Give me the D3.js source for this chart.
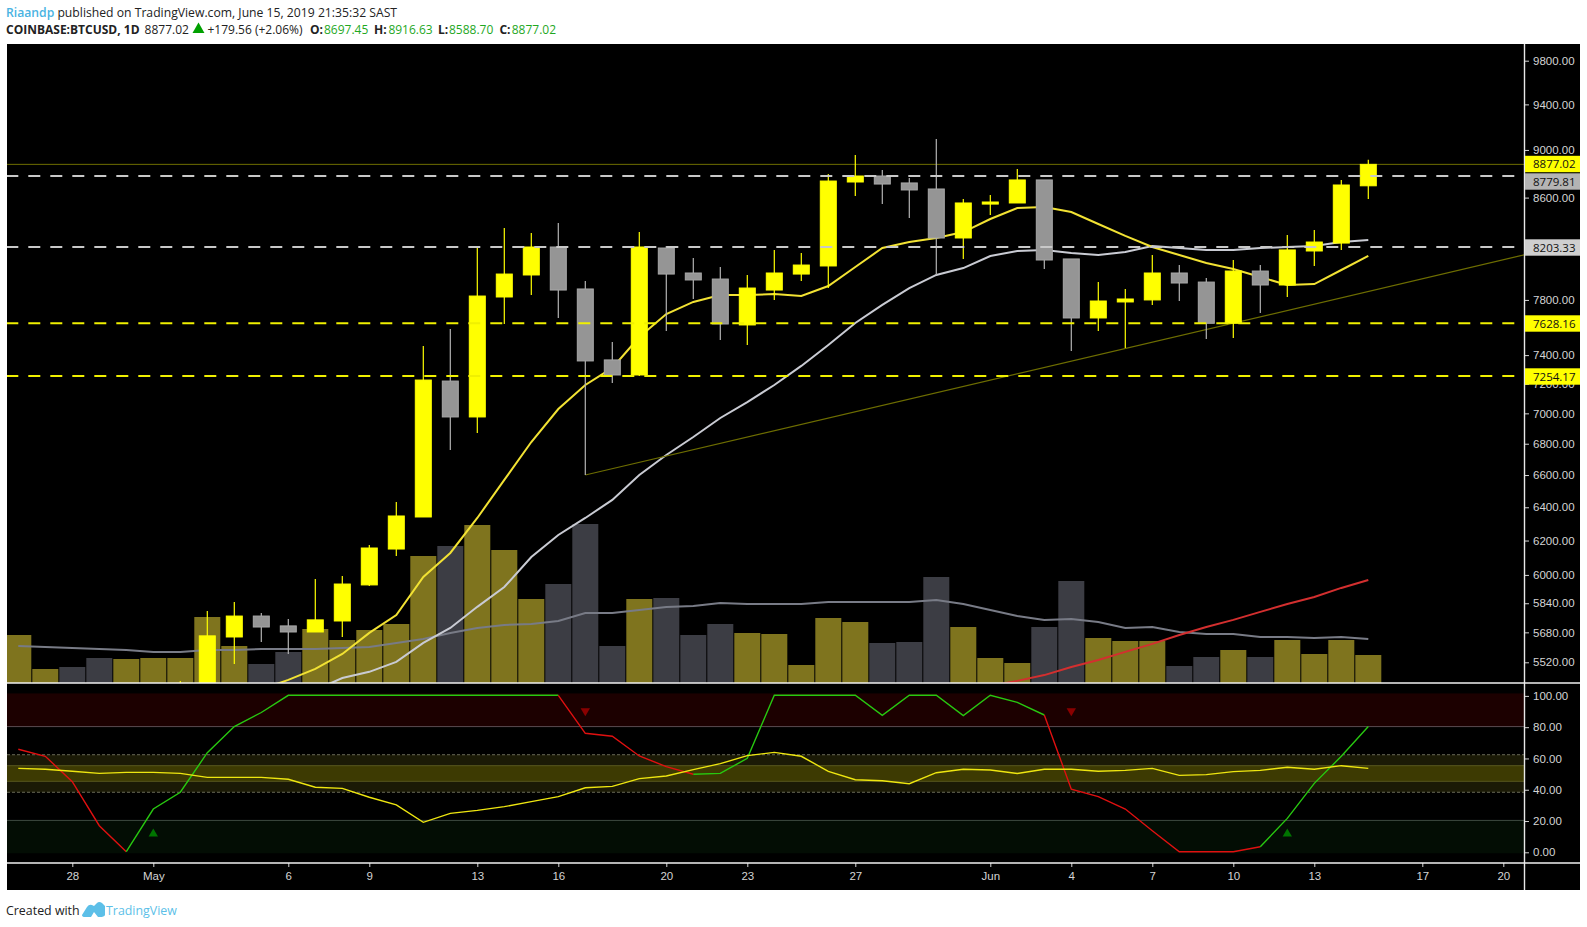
<!DOCTYPE html>
<html>
<head>
<meta charset="utf-8">
<script src="https://cdn.jsdelivr.net/npm/d3@7.9.0/dist/d3.min.js"></script>
<style>
  html, body { margin: 0; padding: 0; background: #fff; }
  svg { display: block; font-family: "Open Sans", sans-serif; }
  .axis text { fill: #d4d4d4; font-size: 11.5px; }
  .axis line { stroke: #d4d4d4; }
  .axis .domain { display: none; }
</style>
</head>
<body>
<svg id="chart" width="1587" height="927"></svg>
<script>
// daily bars, first one is 26 Apr 2019
const startDay = Date.UTC(2019, 3, 26);
const DAY = 864e5;

const opens = [5250,5270,5290,5270,5230,5300,5340,5400,5655,5769,5715,5682,5742,5943,6150,6341,7219,6976,7822,7988,8204,7882,7366,7261,8196,8003,7957,7616,7874,7995,8057,8729,8779,8721,8671,8275,8547,8556,8746,8111,7667,7785,7800,8003,7934,7628,8018,7912,8173,8235,8697.45];
const highs = [5330,5300,5310,5290,5310,5360,5423,5797,5847,5786,5753,5977,5994,6174,6432,7465,7587,8196,8354,8314,8394,7942,7493,8322,8212,8118,8049,7988,8181,8157,8796,8957,8829,8762,9095,8589,8621,8838,8746,8111,7934,7882,8142,8064,7965,8103,8064,8298,8338,8746,8916.63];
const lows = [5200,5220,5240,5190,5210,5280,5320,5380,5511,5628,5564,5682,5655,5937,6109,6341,6760,6870,7623,7837,7667,6600,7206,7254,7572,7807,7508,7472,7800,7942,7889,8613,8547,8434,7988,8111,8458,8556,8034,7429,7572,7450,7763,7792,7515,7522,7703,7822,8057,8181,8588.70];
const closes = [5270,5290,5270,5230,5300,5340,5400,5661,5769,5709,5682,5748,5948,6156,6347,7226,6976,7829,7995,8204,7874,7359,7261,8204,7995,7950,7623,7889,8003,8064,8737,8779,8712,8663,8275,8556,8564,8746,8103,7667,7792,7807,8003,7927,7628,8018,7912,8181,8243,8704,8877.02];
const volumes = [4800,1400,1600,2500,2400,2500,2500,6600,3700,1900,3100,5400,4300,5300,5900,12700,13700,15800,13300,8400,9900,15900,3700,8400,8500,4800,5900,5000,4900,1800,6500,6100,4000,4100,10600,5600,2500,2000,5600,10200,4500,4200,4200,1700,2600,3300,2600,4300,2900,4300,2800];

const yellowMa = [5260,5265,5270,5265,5260,5265,5285,5310,5340,5380,5428,5485,5564,5677,5775,5988,6127,6335,6569,6811,7029,7192,7310,7529,7696,7785,7837,7837,7844,7829,7904,8049,8196,8243,8275,8322,8426,8515,8523,8482,8386,8291,8204,8142,8080,8034,7973,7912,7919,8026,8134];
const whiteMa = [5200,5210,5220,5225,5230,5240,5250,5265,5285,5310,5340,5376,5438,5470,5522,5623,5704,5820,5931,6103,6233,6335,6445,6600,6727,6844,6969,7076,7192,7324,7472,7630,7763,7889,7988,8041,8134,8173,8181,8157,8142,8165,8212,8196,8181,8181,8196,8204,8212,8243,8259];
// red average only comes into view on the last days
const redMaStart = 36;
const redMa = [5397,5423,5453,5495,5532,5575,5618,5666,5709,5748,5792,5836,5875,5926,5971];
const volumeMa = [3700,3600,3500,3400,3300,3100,3100,3300,3300,3400,3400,3400,3500,3600,4000,4400,5000,5500,5800,5900,6200,7000,7000,7300,7600,7700,8000,7900,7900,7900,8100,8100,8100,8100,8300,7900,7300,6700,6300,6400,6100,5500,5600,5100,4900,4900,4600,4600,4500,4600,4400];

const stochK = [65.5,61,44.8,16.6,0,27.3,38,63.3,80,89,100,100,100,100,100,100,100,100,100,100,100,75.7,73.8,61.2,54.4,49.5,50.1,59.7,100,100,100,100,87.2,100,100,87,100,95.5,87.4,40,35.2,27.3,13.4,0,0,0,3.2,21.3,43.7,61,80];
const stochD = [53.3,52.7,51.4,50.1,50.7,50.7,50.1,47.5,47.5,47.5,46.3,41.2,40.5,34.8,29.9,18.8,24.5,26.4,28.8,32,35.2,40.9,41.8,46.7,48.4,52.5,56.3,61.4,63.5,61,51.4,46,45.4,43.5,50.5,52.7,52.2,50,52.7,52.7,51.4,52,53.3,48.8,49.3,51.2,52,54,52.7,55,53.3];
// from bar, to bar, direction of the %K colouring
const stochSegments = [[0,4,'down'],[4,20,'up'],[20,25,'down'],[25,38,'up'],[38,46,'down'],[46,50,'up']];
// bar, value, direction
const stochMarkers = [[5,11.4,'up'],[21,90,'down'],[39,90,'down'],[47,11.4,'up']];

const priceTicks = [9800,9400,9000,8600,7800,7400,7200,7000,6800,6600,6400,6200,6000,5840,5680,5520];
const stochTicks = [100,80,60,40,20,0];
const dateTicks = [[2,'28'],[5,'May'],[10,'6'],[13,'9'],[17,'13'],[20,'16'],[24,'20'],[27,'23'],[31,'27'],[36,'Jun'],[39,'4'],[42,'7'],[45,'10'],[48,'13'],[52,'17'],[55,'20']];

const levelValues = [8877.02,8779.81,8203.33,7628.16,7254.17];
const levelFills = ['#ffff00','#b4b4b4','#cfcfcf','#ffff00','#ffff00'];
const levelLabelY = [164,181.5,247.5,323.5,376.5];
const dashedLevels = [8779.81,8203.33,7628.16,7254.17];
const dashedColors = ['#c8c8c8','#c8c8c8','#f0f000','#f0f000'];

// trend line: bar index and price at both ends
const trendBars = [21,55.77];
const trendPrices = [6600,8142];

const plotL = 7, axisX = 1524, plotR = 1580, plotT = 44, priceB = 683, stochB = 863, plotB = 890;

const dateOf = i => new Date(startDay + i * DAY);
const x = d3.scaleUtc()
  .domain([dateOf(5), dateOf(55)])
  .range([153.3, 153.3 + 27 * 50]);
const xi = i => x(dateOf(i));

// log price scale
const y = d3.scaleLog().domain([9800, 5520]).range([60.7, 662.3]);
const yVol = d3.scaleLinear().domain([0, 16000]).range([priceB, priceB - 160]);
const yStoch = d3.scaleLinear().domain([0, 100]).range([851.7, 695.3]);

const svg = d3.select('#chart');

svg.append('rect').attr('x', plotL).attr('y', plotT)
  .attr('width', plotR - plotL).attr('height', plotB - plotT).attr('fill', '#000');

const defs = svg.append('defs');
defs.append('clipPath').attr('id', 'clipPrice').append('rect')
  .attr('x', plotL).attr('y', plotT).attr('width', axisX - plotL).attr('height', priceB - plotT);
defs.append('clipPath').attr('id', 'clipStoch').append('rect')
  .attr('x', plotL).attr('y', priceB).attr('width', axisX - plotL).attr('height', stochB - priceB);

const price = svg.append('g').attr('clip-path', 'url(#clipPrice)');
const bars = d3.range(opens.length);

// volume
price.selectAll('rect.vol').data(bars).join('rect')
  .attr('class', 'vol')
  .attr('x', i => xi(i) - 13)
  .attr('width', 26)
  .attr('y', i => yVol(volumes[i]))
  .attr('height', i => priceB - yVol(volumes[i]))
  .attr('fill', i => closes[i] >= opens[i] ? '#7f741e' : '#3c3d44');

const lineOf = (arr, scale, offset = 0) => d3.line()
  .x((d, i) => xi(i + offset))
  .y(d => scale(d))(arr);

price.append('path').attr('d', lineOf(volumeMa, yVol))
  .attr('fill', 'none').attr('stroke', '#787b86').attr('stroke-width', 2);
price.append('path').attr('d', lineOf(redMa, y, redMaStart))
  .attr('fill', 'none').attr('stroke', '#d32f2f').attr('stroke-width', 2);
price.append('path').attr('d', lineOf(whiteMa, y))
  .attr('fill', 'none').attr('stroke', '#c9cbd3').attr('stroke-width', 2);
price.append('path').attr('d', lineOf(yellowMa, y))
  .attr('fill', 'none').attr('stroke', '#f2e233').attr('stroke-width', 2);

// thin olive lines
price.append('line')
  .attr('x1', plotL).attr('x2', axisX)
  .attr('y1', y(levelValues[0])).attr('y2', y(levelValues[0]))
  .attr('stroke', '#6d6d00');
price.append('line')
  .attr('x1', xi(trendBars[0])).attr('x2', xi(trendBars[1]))
  .attr('y1', y(trendPrices[0])).attr('y2', y(trendPrices[1]))
  .attr('stroke', '#6d6d00').attr('stroke-width', 1.2);

// candles
const isUp = i => closes[i] >= opens[i];
price.selectAll('line.wick').data(bars).join('line')
  .attr('class', 'wick')
  .attr('x1', i => xi(i)).attr('x2', i => xi(i))
  .attr('y1', i => y(highs[i])).attr('y2', i => y(lows[i]))
  .attr('stroke', i => isUp(i) ? '#ffff00' : '#b4b4b4')
  .attr('stroke-width', 1.2);
price.selectAll('rect.body').data(bars).join('rect')
  .attr('class', 'body')
  .attr('x', i => xi(i) - 8)
  .attr('width', 16)
  .attr('y', i => y(Math.max(opens[i], closes[i])))
  .attr('height', i => Math.max(1, Math.abs(y(opens[i]) - y(closes[i]))))
  .attr('fill', i => isUp(i) ? '#ffff00' : '#959595')
  .attr('stroke', i => isUp(i) ? '#ffff00' : '#a8a8a8');

// dashed levels on top of the candles
price.selectAll('line.level').data(dashedLevels).join('line')
  .attr('class', 'level')
  .attr('x1', 6.3).attr('x2', axisX)
  .attr('y1', d => y(d)).attr('y2', d => y(d))
  .attr('stroke', (d, i) => dashedColors[i])
  .attr('stroke-width', 2)
  .attr('stroke-dasharray', '12 10');

// stochastic pane
const stoch = svg.append('g').attr('clip-path', 'url(#clipStoch)');
const band = (from, to, fill) => stoch.append('rect')
  .attr('x', plotL).attr('width', axisX - plotL)
  .attr('y', yStoch(to)).attr('height', yStoch(from) - yStoch(to))
  .attr('fill', fill);
const rule = (v, color, dash) => stoch.append('line')
  .attr('x1', plotL).attr('x2', axisX)
  .attr('y1', yStoch(v)).attr('y2', yStoch(v))
  .attr('stroke', color)
  .attr('stroke-dasharray', dash || null);

band(80, 101.2, '#1c0000');
band(-1, 20, '#030d04');
band(38, 62, '#1b1a06');
band(45, 55, '#3d3a02');
rule(80, '#5a4a50');
rule(20, '#3d4a40');
rule(62, '#6a6a58', '3 2');
rule(38, '#6a6a58', '3 2');
rule(55, '#58561f');
rule(45, '#58561f');

stochSegments.forEach(([a, b, dir]) => {
  stoch.append('path')
    .attr('d', lineOf(stochK.slice(a, b + 1), yStoch, a))
    .attr('fill', 'none')
    .attr('stroke', dir === 'up' ? '#28c810' : '#e01010')
    .attr('stroke-width', 1.4);
});
stoch.append('path').attr('d', lineOf(stochD, yStoch))
  .attr('fill', 'none').attr('stroke', '#eee610').attr('stroke-width', 1.4);

stoch.selectAll('path.marker').data(stochMarkers).join('path')
  .attr('class', 'marker')
  .attr('d', d3.symbol(d3.symbolTriangle, 38))
  .attr('transform', d => `translate(${xi(d[0])},${yStoch(d[1])})${d[2] === 'down' ? ' rotate(180)' : ''}`)
  .attr('fill', d => d[2] === 'down' ? '#8a0000' : '#007400');

// axes
svg.append('g').attr('class', 'axis')
  .attr('transform', `translate(${axisX},0)`)
  .call(d3.axisRight(y).tickValues(priceTicks).tickFormat(d3.format('.2f')).tickSize(5).tickPadding(4));

svg.append('g').attr('class', 'axis')
  .attr('transform', `translate(${axisX},0.6)`)
  .call(d3.axisRight(yStoch).tickValues(stochTicks).tickFormat(d3.format('.2f')).tickSize(5).tickPadding(4));

const dateLabels = new Map(dateTicks.map(d => [+dateOf(d[0]), d[1]]));
svg.append('g').attr('class', 'axis')
  .attr('transform', `translate(0,${stochB})`)
  .call(d3.axisBottom(x)
    .tickValues(dateTicks.map(d => dateOf(d[0])))
    .tickFormat(d => dateLabels.get(+d))
    .tickSize(4).tickPadding(5));

// frame lines
svg.append('line').attr('x1', axisX + 0.5).attr('x2', axisX + 0.5).attr('y1', plotT).attr('y2', plotB)
  .attr('stroke', '#e8e8e8').attr('stroke-width', 1.4);
svg.append('line').attr('x1', plotL).attr('x2', plotR).attr('y1', priceB).attr('y2', priceB)
  .attr('stroke', '#f0f0f0').attr('stroke-width', 1.4);
svg.append('line').attr('x1', plotL).attr('x2', plotR).attr('y1', stochB).attr('y2', stochB)
  .attr('stroke', '#f0f0f0').attr('stroke-width', 1.4);

// level labels on the price axis
const labels = svg.append('g');
levelValues.forEach((v, i) => {
  labels.append('rect')
    .attr('x', axisX + 1).attr('width', plotR - axisX - 1)
    .attr('y', levelLabelY[i] - 8.2).attr('height', 16.4)
    .attr('fill', levelFills[i]);
  labels.append('text')
    .attr('x', axisX + 9).attr('y', levelLabelY[i])
    .attr('dy', '0.35em')
    .attr('font-size', 11.5)
    .attr('fill', '#111')
    .text(d3.format('.2f')(v));
});

// header and footer
const line1 = svg.append('text').attr('x', 6).attr('y', 17).attr('font-size', 12.2).attr('fill', '#222');
line1.append('tspan').attr('fill', '#4ab3e2').attr('font-weight', 600).text('Riaandp');
line1.append('tspan').text(' published on TradingView.com, June 15, 2019 21:35:32 SAST');

const line2 = svg.append('text').attr('y', 34).attr('font-size', 12).attr('fill', '#222');
const green = '#1fa81f';
line2.append('tspan').attr('x', 6).attr('font-weight', 700).text('COINBASE:BTCUSD, 1D');
line2.append('tspan').attr('x', 144.6).text('8877.02');
line2.append('tspan').attr('x', 207.5).text('+179.56 (+2.06%)');
[['O:', '8697.45', 310, 324], ['H:', '8916.63', 374, 388.4], ['L:', '8588.70', 438, 449], ['C:', '8877.02', 499.4, 511.7]].forEach(([k, v, xk, xv]) => {
  line2.append('tspan').attr('x', xk).attr('font-weight', 700).text(k);
  line2.append('tspan').attr('x', xv).attr('fill', green).text(v);
});

// up arrow next to the last price
svg.append('path')
  .attr('d', d3.symbol(d3.symbolTriangle, 62))
  .attr('transform', 'translate(198.5,29.5)')
  .attr('fill', '#00a000');

const foot = svg.append('text').attr('x', 6).attr('y', 915).attr('font-size', 12.4).attr('fill', '#222');
foot.append('tspan').text('Created with');
foot.append('tspan').attr('x', 106).attr('fill', '#5cbfe8').text('TradingView');

// logo
svg.append('path')
  .attr('d', 'M82 915 L87 907 Q89 904 92 905 L94 906 L97 903 Q99 901 102 903 L105 906 L105 915 Q104 917 100 917 L98 917 L94 912 L91 917 L85 917 Q82 917 82 915 Z')
  .attr('fill', '#5cbfe8');
</script>
</body>
</html>
